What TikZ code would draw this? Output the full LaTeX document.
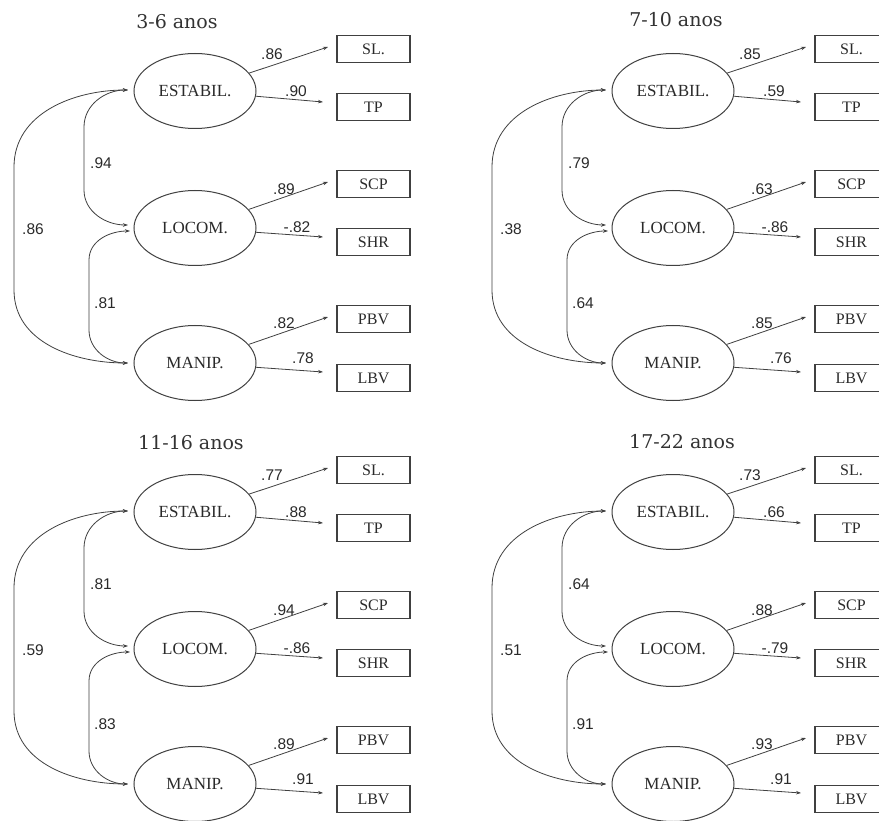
\documentclass[tikz,border=0pt]{standalone}
\usepackage{fontspec}
\setmainfont{Liberation Serif}
\newfontfamily\numfont{Liberation Sans}
\newfontfamily\titlefont{DejaVu Serif}
\usetikzlibrary{shapes.geometric,arrows.meta}
\definecolor{linec}{HTML}{404040}
\definecolor{textc}{HTML}{2A2A2A}
\definecolor{titc}{HTML}{333333}
\tikzset{
  lat/.style={ellipse, draw=linec, line width=1pt, minimum width=122pt, minimum height=75pt, inner sep=0pt, font=\fontsize{17}{20}\selectfont, text=textc},
  obs/.style={rectangle, draw=linec, line width=1.2pt, minimum width=73pt, minimum height=27pt, inner sep=0pt, font=\fontsize{16}{19}\selectfont, text=textc},
  coef/.style={font=\numfont\fontsize{15.5}{18}\selectfont, text=textc, inner sep=0pt},
  ttl/.style={font=\titlefont\fontsize{19}{22}\selectfont, text=titc, inner sep=0pt},
  tipst/.tip={Stealth[length=5pt,width=3.5pt]},
  load/.style={line width=0.8pt, draw=linec, -tipst},
  cov/.style={line width=0.8pt, draw=linec, tipst-tipst},
}
\newcommand\semload[7]{%
  \node[lat] (#1E) at (195,-91) {ESTABIL.};
  \node[lat] (#1L) at (195,-228) {LOCOM.};
  \node[lat] (#1M) at (195,-363) {MANIP.};
  \node[obs] (#1SL) at (373.5,-49) {SL.};
  \node[obs] (#1TP) at (373.5,-107) {TP};
  \node[obs] (#1SCP) at (373.5,-184) {SCP};
  \node[obs] (#1SHR) at (373.5,-242) {SHR};
  \node[obs] (#1PBV) at (373.5,-319) {PBV};
  \node[obs] (#1LBV) at (373.5,-378) {LBV};
  \coordinate (#1a1) at (328,-47);
  \coordinate (#1a2) at (323,-102);
  \coordinate (#1a3) at (328,-182);
  \coordinate (#1a4) at (323,-237);
  \coordinate (#1a5) at (328,-317);
  \coordinate (#1a6) at (323,-372);
  \draw[load] (#1E) -- (#1a1);
  \draw[load] (#1E) -- (#1a2);
  \draw[load] (#1L) -- (#1a3);
  \draw[load] (#1L) -- (#1a4);
  \draw[load] (#1M) -- (#1a5);
  \draw[load] (#1M) -- (#1a6);
  \node[coef] (#1n1) at (272,-54) {#2};
  \node[coef] (#1n2) at (296,-91) {#3};
  \node[coef] (#1n3) at (284,-189) {#4};
  \node[coef] (#1n4) at (297,-227) {#5};
  \node[coef] (#1n5) at (284,-323) {#6};
  \node[coef] (#1n6) at (303,-358) {#7};
}
\newcommand\semcorr[4]{%
  \coordinate (#1Et) at (128,-90);
  \coordinate (#1Lt) at (128,-225);
  \coordinate (#1Lb) at (130,-231);
  \coordinate (#1Mt) at (128,-363);
  \draw[cov] (#1Et) to[out=180,in=90] (84,-127) -- (84,-190) to[out=-90,in=180] (#1Lt);
  \draw[cov] (#1Lb) to[out=180,in=90] (89,-260) -- (89,-330) to[out=-90,in=180] (#1Mt);
  \draw[cov] (#1Et) to[out=180,in=90] (14,-167) -- (14,-290) to[out=-90,in=180] (#1Mt);
  \node[coef] (#1c1) at (101,-163) {#2};
  \node[coef] (#1c2) at (105,-303) {#3};
  \node[coef] (#1c3) at (33,-229) {#4};
}
\begin{document}
\begin{tikzpicture}[x=1pt,y=1pt]
\useasboundingbox (0,0) rectangle (879,-821);
\clip (0,0) rectangle (879,-821);
\fill[white] (0,0) rectangle (879,-821);
\node[ttl] (t1) at (177,-22) {3-6 anos};
\node[ttl] (t2) at (676,-20) {7-10 anos};
\node[ttl] (t3) at (191,-443) {11-16 anos};
\node[ttl] (t4) at (682,-442) {17-22 anos};
\begin{scope}[shift={(0,0)}]
  \semload{a}{.86}{.90}{.89}{-.82}{.82}{.78}
  \semcorr{a}{.94}{.81}{.86}
\end{scope}
\begin{scope}[shift={(478,0)}]
  \semload{b}{.85}{.59}{.63}{-.86}{.85}{.76}
  \semcorr{b}{.79}{.64}{.38}
\end{scope}
\begin{scope}[shift={(0,-421)}]
  \semload{c}{.77}{.88}{.94}{-.86}{.89}{.91}
  \semcorr{c}{.81}{.83}{.59}
\end{scope}
\begin{scope}[shift={(478,-421)}]
  \semload{d}{.73}{.66}{.88}{-.79}{.93}{.91}
  \semcorr{d}{.64}{.91}{.51}
\end{scope}
\end{tikzpicture}
\end{document}
